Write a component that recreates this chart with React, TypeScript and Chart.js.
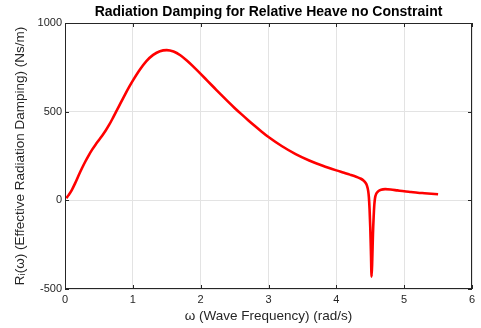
import React, { useEffect, useRef } from "react";
import { Chart, registerables } from "chart.js";

Chart.register(...registerables);

const omega = [
  0.02, 0.05, 0.1, 0.15, 0.2, 0.25, 0.3, 0.35, 0.4, 0.45,
  0.5, 0.55, 0.6, 0.65, 0.7, 0.75, 0.8, 0.85, 0.9, 0.95,
  1.0, 1.1, 1.2, 1.3, 1.4, 1.5, 1.6, 1.7, 1.8, 1.9,
  2.0, 2.1, 2.2, 2.3, 2.4, 2.5, 2.6, 2.7, 2.8, 2.9,
  3.0, 3.2, 3.4, 3.6, 3.8, 4.0, 4.1, 4.2, 4.3, 4.35,
  4.4, 4.43, 4.45, 4.47, 4.48, 4.49, 4.5, 4.51, 4.52, 4.53,
  4.54, 4.55, 4.56, 4.57, 4.59, 4.62, 4.66, 4.72, 4.8, 4.9,
  5.0, 5.1, 5.2, 5.3, 5.4, 5.5,
];

const damping = [
  12, 28, 58, 97, 140, 181, 219, 254, 286, 314,
  340, 366, 394, 425, 460, 497, 534, 571, 607, 642,
  675, 735, 785, 820, 841, 847, 839, 818, 787, 751,
  713, 674, 635, 596, 558, 521, 486, 452, 419, 387,
  357, 305, 261, 225, 195, 169, 157, 145, 132, 124,
  112, 99, 84, 52, 17, -50, -150, -290, -430, -330,
  -190, -95, -25, 12, 38, 52, 60, 63, 61, 56,
  51, 47, 43, 40, 37, 34,
];

const xTicks = [0, 1, 2, 3, 4, 5, 6];
const yTicks = [-500, 0, 500, 1000];

const titleText = "Radiation Damping for Relative Heave no Constraint";
const xLabel = "ω (Wave Frequency) (rad/s)";
const yLabel = "Rᵢ(ω) (Effective Radiation Damping) (Ns/m)";

const FONT = '"Liberation Sans", Arial, Helvetica, sans-serif';
const AXIS_COLOR = "#262626";

const boxPlugin = {
  id: "matlabBox",
  afterDraw(chart: any) {
    const { ctx, chartArea, scales } = chart;
    const { left, right, top, bottom } = chartArea;
    ctx.save();
    ctx.strokeStyle = AXIS_COLOR;
    ctx.lineWidth = 1;
    ctx.strokeRect(Math.round(left) + 0.5, Math.round(top) + 0.5, Math.round(right - left) - 1, Math.round(bottom - top) - 1);
    const tl = 4;
    ctx.beginPath();
    xTicks.forEach((v) => {
      const px = Math.round(scales.x.getPixelForValue(v)) + 0.5;
      ctx.moveTo(px, bottom);
      ctx.lineTo(px, bottom - tl);
      ctx.moveTo(px, top);
      ctx.lineTo(px, top + tl);
    });
    yTicks.forEach((v) => {
      const py = Math.round(scales.y.getPixelForValue(v)) + 0.5;
      ctx.moveTo(left, py);
      ctx.lineTo(left + tl, py);
      ctx.moveTo(right, py);
      ctx.lineTo(right - tl, py);
    });
    ctx.stroke();
    ctx.restore();
  },
};

export default function App() {
  const ref = useRef<HTMLCanvasElement | null>(null);

  useEffect(() => {
    if (!ref.current) return;
    const chart = new Chart(ref.current, {
      type: "line",
      data: {
        datasets: [
          {
            data: omega.map((x, i) => ({ x, y: damping[i] })),
            borderColor: "#ff0000",
            borderWidth: 2.6,
            pointRadius: 0,
            fill: false,
            cubicInterpolationMode: "monotone",
          },
        ],
      },
      options: {
        responsive: false,
        animation: false,
        devicePixelRatio: 1,
        layout: { padding: { left: 0, right: 9, top: 0, bottom: 0 } },
        plugins: {
          legend: { display: false },
          tooltip: { enabled: false },
          title: {
            display: true,
            text: titleText,
            fullSize: false,
            color: "#000",
            font: { family: FONT, size: 14, weight: "bold", lineHeight: 1.2 },
            padding: { top: 4, bottom: 2.2 },
          },
        },
        scales: {
          x: {
            type: "linear",
            min: 0,
            max: 6,
            afterBuildTicks: (s: any) => {
              s.ticks = xTicks.map((v) => ({ value: v }));
            },
            afterFit: (s: any) => {
              s.height = 39;
            },
            ticks: {
              color: AXIS_COLOR,
              font: { family: FONT, size: 11 },
              padding: 4,
              maxRotation: 0,
              callback: (v: any) => String(v),
            },
            grid: { color: "#e3e3e3", drawTicks: false },
            border: { display: false },
            title: {
              display: true,
              text: xLabel,
              color: AXIS_COLOR,
              font: { family: FONT, size: 13.5 },
              padding: { top: 0, bottom: 3.2 },
            },
          },
          y: {
            type: "linear",
            min: -500,
            max: 1000,
            afterBuildTicks: (s: any) => {
              s.ticks = yTicks.map((v) => ({ value: v }));
            },
            afterFit: (s: any) => {
              s.width = 65;
            },
            ticks: {
              color: AXIS_COLOR,
              font: { family: FONT, size: 11 },
              padding: 3,
              callback: (v: any) => String(v),
            },
            grid: { color: "#e3e3e3", drawTicks: false },
            border: { display: false },
            title: {
              display: true,
              text: yLabel,
              color: AXIS_COLOR,
              font: { family: FONT, size: 13.5 },
              padding: { top: 12, bottom: 0 },
            },
          },
        },
      },
      plugins: [boxPlugin],
    } as any);
    return () => chart.destroy();
  }, []);

  return (
    <div style={{ position: "absolute", left: 0, top: 0, width: 481, height: 328 }}>
      <canvas ref={ref} width={481} height={328} />
    </div>
  );
}
